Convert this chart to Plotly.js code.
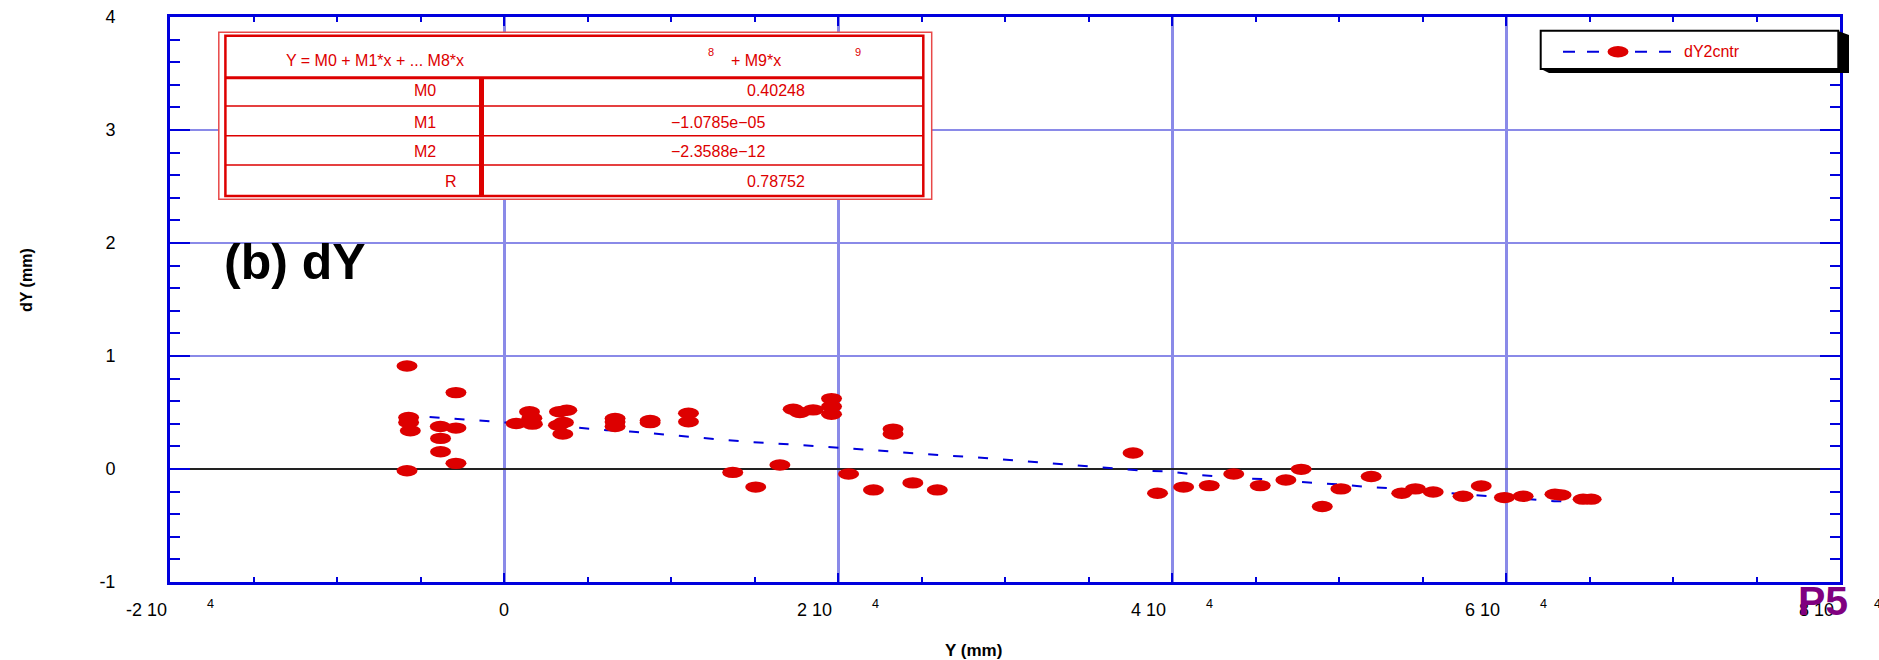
<!DOCTYPE html>
<html><head><meta charset="utf-8">
<script src="https://cdn.plot.ly/plotly-3.0.1.min.js"></script>
<style>html,body{margin:0;padding:0;background:#fff}#plot{width:1879px;height:660px}</style>
</head><body><div id="plot"></div>
<script>
// ---- data ----
const pointX = [-5808,-5712,-5712,-5610,-5808,-3816,-3800,-3800,-2877,-2877,-2877,
  730,1527,1667,1700,3321,3760,3560,3261,3521,6651,6651,6651,8750,8750,11047,11047,
  13697,15073,16520,17316,17716,18511,19612,19612,19612,20635,22124,23296,23296,24481,25946,
  37668,39133,40695,42232,43697,45283,46820,47735,48997,50115,51927,53757,54576,55641,
  57429,58518,59906,61024,62932,63300,64618,65100];
const pointY = [0.911,0.456,0.412,0.338,-0.015,0.376,0.271,0.153,0.676,0.362,0.05,
  0.403,0.506,0.45,0.397,0.506,0.52,0.412,0.388,0.309,0.447,0.415,0.376,0.43,0.41,0.494,0.418,
  -0.03,-0.16,0.035,0.529,0.50,0.523,0.623,0.553,0.485,-0.044,-0.185,0.353,0.309,-0.123,-0.185,
  0.141,-0.215,-0.16,-0.147,-0.044,-0.147,-0.097,-0.003,-0.332,-0.176,-0.067,-0.215,-0.176,-0.203,
  -0.241,-0.15,-0.253,-0.241,-0.223,-0.23,-0.267,-0.267];
const fitX = [-4455,-2817,-1226,72,2440,4458,6154,7548,9994,12280,14570,16022,17817,19312,20706,
  22201,23697,25192,26687,28081,29480,32388,33877,35360,36855,38326,39816,41305,44034,45768,
  48496,50229,51467,53960,56436,58667,60900,62886,64600];
const fitY = [0.461,0.441,0.426,0.412,0.39,0.362,0.344,0.332,0.30,0.27,0.24,0.228,0.212,0.197,0.182,
  0.165,0.147,0.132,0.117,0.106,0.09,0.053,0.038,0.024,0.003,-0.015,-0.021,-0.05,-0.082,-0.09,
  -0.123,-0.138,-0.156,-0.179,-0.212,-0.235,-0.258,-0.285,-0.29];
const xTickVals = [-20000, 0, 20000, 40000, 60000, 80000];
const xTickMain = ['-2 10', '0', '2 10', '4 10', '6 10', '8 10'];
const xTickExp = ['4', '', '4', '4', '4', '4'];
const yTickVals = [-1, 0, 1, 2, 3, 4];
const yTickText = ['-1', '0', '1', '2', '3', '4'];
const seriesName = 'dY2cntr';
const eqLeft = 'Y = M0 + M1*x + ... M8*x';
const eqRight = '+ M9*x';
const eqExp = ['8', '9'];
const tableLabels = ['M0', 'M1', 'M2', 'R'];
const tableValues = ['0.40248', '\u22121.0785e\u221205', '\u22122.3588e\u221212', '0.78752'];

// ---- layout helpers ----
const W = 1879, H = 660, M = {l: 170, r: 39, t: 17, b: 78};
const PW = W - M.l - M.r, PH = H - M.t - M.b;
const px = v => (v - M.l) / PW;
const py = v => 1 - (v - M.t) / PH;
const FONT = 'Liberation Sans, Arial, sans-serif';
const RED = '#dd0000', BLUE = '#0000dd', GRID = 'rgb(138,138,232)';
const NB = '\u00a0'.repeat(8);
const xTickText = xTickMain.map((m, i) => xTickExp[i] ? m + NB + '<sup>' + xTickExp[i] + '</sup>' : m);

const shapes = [];
function rect(x0, y0, x1, y1, color, width, fill) {
  shapes.push({type: 'rect', xref: 'paper', yref: 'paper', layer: 'above',
    x0: px(x0), x1: px(x1), y0: py(y1), y1: py(y0),
    line: {color: color, width: width}, fillcolor: fill || 'rgba(0,0,0,0)'});
}
function hline(x0, x1, y, color, width, dash) {
  shapes.push({type: 'line', xref: 'paper', yref: 'paper', layer: 'above',
    x0: px(x0), x1: px(x1), y0: py(y), y1: py(y), line: {color: color, width: width, dash: dash || 'solid'}});
}
function vline(x, y0, y1, color, width) {
  shapes.push({type: 'line', xref: 'paper', yref: 'paper', layer: 'above',
    x0: px(x), x1: px(x), y0: py(y0), y1: py(y1), line: {color: color, width: width}});
}
const annotations = [];
function ann(text, x, y, o) {
  o = o || {};
  annotations.push(Object.assign({text: text, xref: 'paper', yref: 'paper', x: px(x), y: py(y),
    xanchor: 'center', yanchor: 'middle', showarrow: false,
    font: {family: FONT, size: 16, color: RED}}, o));
}

// table
rect(218.8, 32.3, 931.7, 199.3, '#e84848', 1.5, '#ffffff');
rect(225.4, 35.7, 923.3, 196, RED, 2.5, '#ffffff');
hline(225.4, 923.3, 77.8, RED, 3);
[106, 135.7, 165].forEach(y => hline(225.4, 923.3, y, RED, 1.5));
vline(481.5, 77.8, 196, RED, 5);
ann(eqLeft, 283.5, 61, {xanchor: 'left'});
ann(eqExp[0], 711, 52, {font: {family: FONT, size: 11, color: RED}});
ann(eqRight, 729, 61, {xanchor: 'left'});
ann(eqExp[1], 858, 52, {font: {family: FONT, size: 11, color: RED}});
const rowY = [90.7, 122, 151.7, 181];
const labX = [425, 425, 425, 451];
const valX = [776, 718, 718, 776];
tableLabels.forEach((t, i) => ann(t, labX[i], rowY[i]));
tableValues.forEach((t, i) => ann(t, valX[i], rowY[i]));

// legend box
shapes.push({type: 'path', xref: 'paper', yref: 'paper', layer: 'above',
  path: `M${px(1838)},${py(31)} L${px(1849)},${py(35)} L${px(1849)},${py(73)} L${px(1549)},${py(73)} L${px(1541)},${py(69)} L${px(1838)},${py(69)} Z`,
  fillcolor: '#000000', line: {width: 0}});
rect(1540.7, 30.7, 1838.3, 69, '#000000', 2, '#ffffff');
hline(1563, 1671, 51.7, BLUE, 2, '12px,12px');
shapes.push({type: 'circle', xref: 'paper', yref: 'paper', layer: 'above',
  x0: px(1607.5), x1: px(1628.5), y0: py(57.4), y1: py(46), fillcolor: RED, line: {width: 0}});
ann(seriesName, 1681.7, 51.7, {xanchor: 'left', font: {family: FONT, size: 16, color: RED}});

// labels
ann('(b) dY', 222, 262, {xanchor: 'left', font: {family: FONT, size: 50, color: '#000', weight: 'bold'}});
ann('P5', 1823, 601, {font: {family: FONT, size: 41, color: '#800080', weight: 'bold'}});
ann('dY (mm)', 27, 280, {textangle: -90, font: {family: FONT, size: 16, color: '#000', weight: 'bold'}});
ann('Y (mm)', 973, 650, {font: {family: FONT, size: 17, color: '#000', weight: 'bold'}});

const traces = [
  {x: fitX, y: fitY, mode: 'lines', type: 'scatter', name: 'fit',
    line: {color: BLUE, width: 2, dash: '10px,15px'}, hoverinfo: 'skip'},
  {x: pointX, y: pointY, mode: 'markers', type: 'scatter', name: seriesName,
    marker: {color: RED, size: 12, line: {width: 0}}}
];

const axisCommon = {
  showline: true, linecolor: BLUE, linewidth: 3, mirror: 'allticks',
  ticks: 'inside', tickcolor: BLUE, tickwidth: 2,
  showgrid: true, gridcolor: GRID, gridwidth: 3, ticklabeloverflow: 'allow',
  tickfont: {family: FONT, size: 18, color: '#000'}
};
const layout = {
  width: W, height: H, margin: M, showlegend: false,
  paper_bgcolor: '#fff', plot_bgcolor: '#fff',
  xaxis: Object.assign({}, axisCommon, {
    range: [-20000, 80000], tickmode: 'array', tickvals: xTickVals, ticktext: xTickText,
    ticklen: 9, zeroline: false, ticklabelstandoff: 9,
    minor: {dtick: 5000, ticks: 'inside', ticklen: 5, tickcolor: BLUE, tickwidth: 2, showgrid: false}
  }),
  yaxis: Object.assign({}, axisCommon, {
    range: [-1, 4], tickmode: 'array', tickvals: yTickVals, ticktext: yTickText,
    ticklen: 20, gridwidth: 2.5,
    zeroline: true, zerolinecolor: '#222', zerolinewidth: 2, ticklabelstandoff: 48,
    minor: {dtick: 0.2, ticks: 'inside', ticklen: 10, tickcolor: BLUE, tickwidth: 2, showgrid: false}
  }),
  shapes: shapes, annotations: annotations
};

function ellipses() {
  const rx = 10.5, ry = 5.7;
  const d = `M${rx},0A${rx},${ry} 0 1,1 0,-${ry}A${rx},${ry} 0 0,1 ${rx},0Z`;
  document.querySelectorAll('#plot .scatterlayer .trace path.point').forEach(p => p.setAttribute('d', d));
}
Plotly.newPlot('plot', traces, layout, {staticPlot: true, displayModeBar: false}).then(gd => {
  ellipses();
  gd.on('plotly_afterplot', ellipses);
});
</script>
</body></html>
